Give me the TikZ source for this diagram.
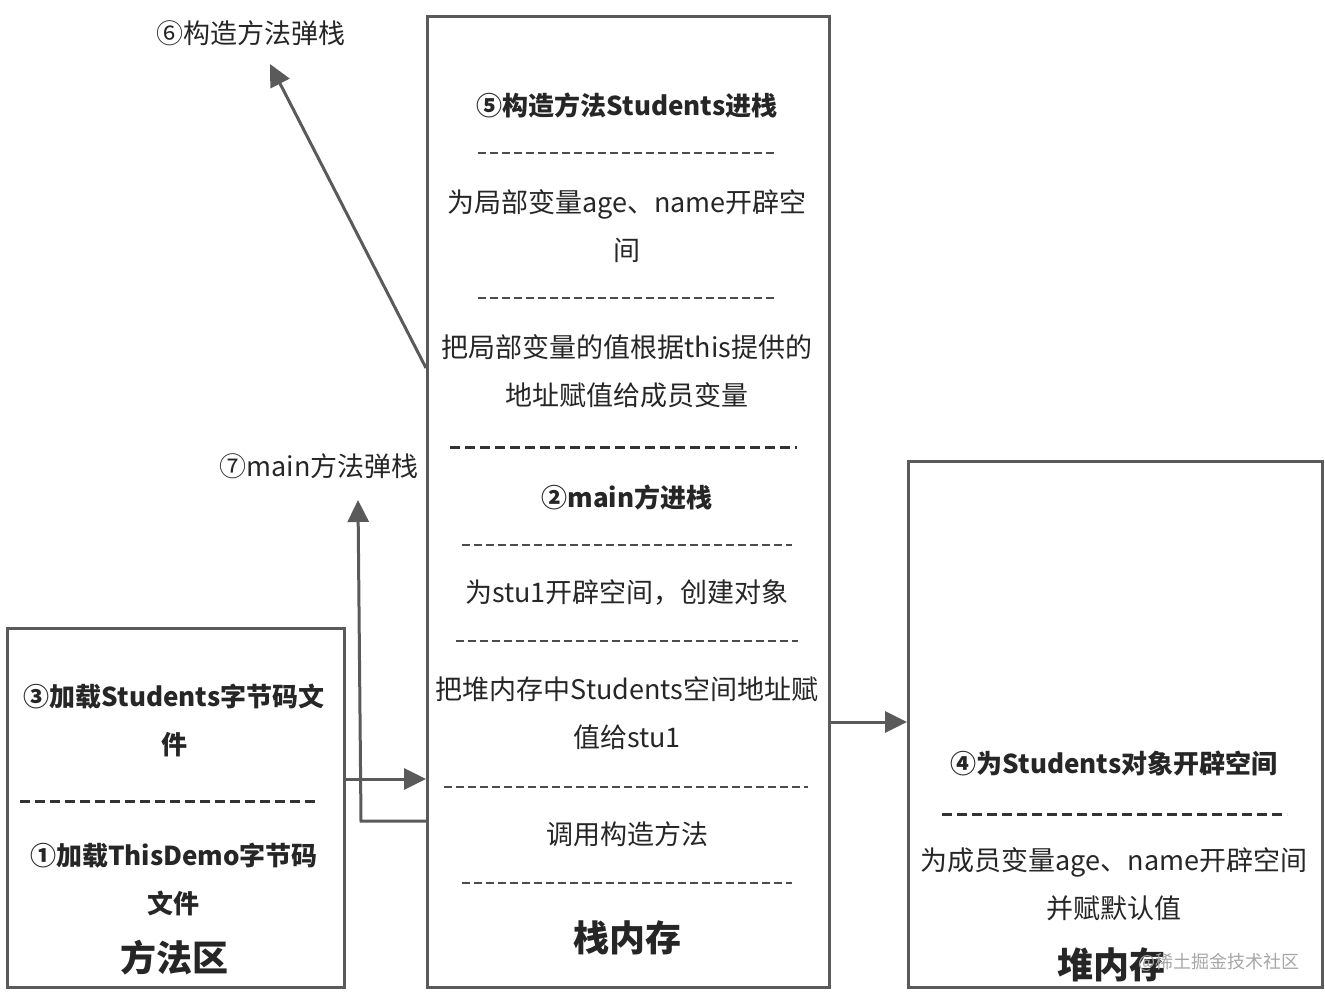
\documentclass[tikz,border=0pt]{standalone}
\usepackage{fontspec}
\setmainfont{Noto Sans CJK SC}
\usetikzlibrary{positioning,arrows.meta}
\definecolor{linegray}{HTML}{5A5A5A}

\begin{document}
\begin{tikzpicture}[x=1pt,y=-1pt,
  box/.style={draw=linegray,line width=3pt,inner sep=0pt,anchor=north west},
  txt/.style={font=\fontsize{27}{48}\selectfont,align=center,text=black!85},
  btxt/.style={font=\fontsize{26}{48}\selectfont\bfseries,align=center,text=black!85},
  big/.style={font=\fontsize{36}{40}\selectfont\bfseries,text=black!85},
  thindash/.style={dash pattern=on 8pt off 4pt,line width=1.4pt,draw=black!70},
  thickdash/.style={dash pattern=on 10pt off 5pt,line width=3pt,draw=black!80},
  arr/.style={draw=linegray,line width=3pt,-{Triangle[length=22pt,width=21pt]}}]

\useasboundingbox (0,0) rectangle (1325,999);

% three memory areas
\node[box,minimum width=337pt,minimum height=359pt] (method) at (6,627) {};
\node[box,minimum width=402pt,minimum height=971pt] (stack)  at (426,15) {};
\node[box,minimum width=414pt,minimum height=526pt] (heap)   at (907,460) {};

% stack
\node[btxt] (s5)   at (627,105) {⑤构造方法Students进栈};
\node[txt]  (sage) at (627,226) {为局部变量age、name开辟空\\间};
\node[txt]  (sval) at (627,371) {把局部变量的值根据this提供的\\地址赋值给成员变量};
\node[btxt] (s2)   at (627,497) {②main方进栈};
\node[txt]  (sstu) at (627,593) {为stu1开辟空间，创建对象};
\node[txt]  (sadr) at (627,713) {把堆内存中Students空间地址赋\\值给stu1};
\node[txt]  (scal) at (627,834) {调用构造方法};
\node[big]  (sname) at (627,938) {栈内存};

\draw[thindash] (478,153) -- (776,153);
\draw[thindash] (478,298) -- (776,298);
\draw[thickdash] (450,447) -- (797,447);
\draw[thindash] (462,545) -- (792,545);
\draw[thindash] (456,641) -- (798,641);
\draw[thindash] (444,787) -- (808,787);
\draw[thindash] (462,883) -- (792,883);

% method area
\node[btxt] (m3)    at (174,720) {③加载Students字节码文\\件};
\node[btxt] (m1)    at (174,879) {①加载ThisDemo字节码\\文件};
\node[big]  (mname) at (174,958) {方法区};
\draw[thickdash] (20,801) -- (318,801);

% heap
\node[btxt] (h4)    at (1114,764) {④为Students对象开辟空间};
\node[txt]  (hage)  at (1114,884) {为成员变量age、name开辟空间\\并赋默认值};
\node[big]  (hname) at (1111,965) {堆内存};
\draw[thickdash] (942,814) -- (1287,814);
\node[font=\fontsize{18}{20}\selectfont,text=black!35] (mark) at (1219,962) {@稀土掘金技术社区};

% pop labels
\node[txt] (l6) at (251,33)  {⑥构造方法弹栈};
\node[txt] (l7) at (319,466) {⑦main方法弹栈};
\coordinate (t6) at (270,64);
\coordinate (t7) at (358,500);

% arrows
\draw[arr] (stack.west |- 0,368) -- (t6);
\draw[arr] (stack.west |- 0,821) -- (361,821) -- (t7);
\draw[arr] (method.east |- 0,779) -- (stack.west |- 0,779);
\draw[arr] (stack.east |- 0,722) -- (heap.west |- 0,722);

\end{tikzpicture}
\end{document}
